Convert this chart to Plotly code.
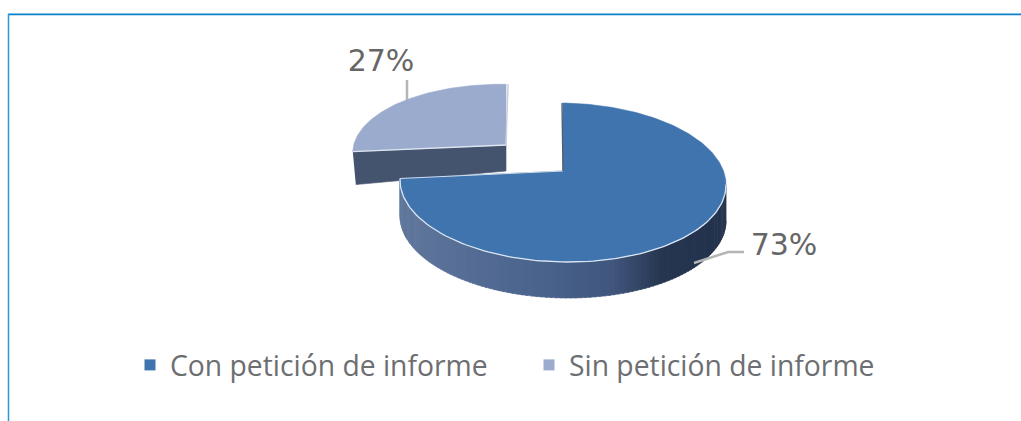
import math
import plotly.graph_objects as go

categories = ["Con petición de informe", "Sin petición de informe"]
shares = [73, 27]
slice_colors = ["#3f74ae", "#9aabcd"]

W, H = 1021, 421
K = 0.1446
A, B = 161.3, 77.8
DEPTH = 36
SHEAR = 0.015


def project(deg, ax, ay, scale=1.0, vscale=1.0):
    t = math.radians(deg)
    u, v = math.sin(t), math.cos(t)
    d = 1 + K * v
    X = scale * A * u / d
    Y = -scale * vscale * B * v / d
    return ax + X, ay + Y + SHEAR * X


def arc(a0, a1, ax, ay, scale=1.0, vscale=1.0, n=120):
    pts = [project(a0 + (a1 - a0) * i / n, ax, ay, scale, vscale) for i in range(n + 1)]
    return [p[0] for p in pts], [p[1] for p in pts]


def lerp_color(stops, f):
    for (f0, c0), (f1, c1) in zip(stops, stops[1:]):
        if f <= f1:
            s = (f - f0) / (f1 - f0)
            rgb = [round(c0[i] + (c1[i] - c0[i]) * s) for i in range(3)]
            return f"rgb({rgb[0]},{rgb[1]},{rgb[2]})"
    return f"rgb{stops[-1][1]}"


fig = go.Figure()


def poly(xs, ys, color):
    fig.add_trace(go.Scatter(
        x=xs, y=ys, mode="lines", fill="toself", fillcolor=color,
        line=dict(color=color, width=0.6),
        showlegend=False, hoverinfo="skip"))


end_main = shares[0] / sum(shares) * 360

# second slice (behind)
ax2, ay2 = 506, 145
sc2, vs2 = 0.94, 0.95
lx, ly = project(end_main, ax2, ay2, sc2, vs2)
poly([lx, ax2, ax2, lx + 3], [ly, ay2, ay2 + DEPTH - 10, ly + DEPTH - 3], "#44546f")
xs, ys = arc(end_main, 360, ax2, ay2, sc2, vs2)
poly([ax2] + xs + [ax2], [ay2] + ys + [ay2], slice_colors[1])
fig.add_trace(go.Scatter(x=[lx, ax2], y=[ly, ay2], mode="lines",
                         line=dict(color="#dfe5f0", width=1.3),
                         showlegend=False, hoverinfo="skip"))
fig.add_trace(go.Scatter(x=[ax2, ax2 + 2], y=[ay2, ay2 - 61], mode="lines",
                         line=dict(color="#c9cfdc", width=1.5),
                         showlegend=False, hoverinfo="skip"))

# main slice wall with gradient
ax1, ay1 = 563, 171
stops = [(0.0, (96, 118, 156)), (0.45, (72, 98, 140)), (0.65, (64, 86, 124)),
         (0.8, (38, 54, 80)), (1.0, (34, 50, 76))]
steps = 110
a_start, a_end = 98.0, end_main
for i in range(steps):
    a0 = a_start + (a_end - a_start) * i / steps
    a1 = a_start + (a_end - a_start) * (i + 1) / steps + 0.4
    x0, y0 = project(a0, ax1, ay1)
    x1, y1 = project(a1, ax1, ay1)
    f = ((x0 + x1) / 2 - 402) / (726 - 402)
    poly([x0, x1, x1, x0], [y0, y1, y1 + DEPTH, y0 + DEPTH],
         lerp_color(stops, max(0, min(1, f))))

# main slice top
xs, ys = arc(0, end_main, ax1, ay1, n=240)
poly([ax1] + xs + [ax1], [ay1] + ys + [ay1], slice_colors[0])
fx, fy = arc(98, end_main, ax1, ay1)
fig.add_trace(go.Scatter(x=fx, y=fy, mode="lines", line=dict(color="#dce6f2", width=1.3),
                         showlegend=False, hoverinfo="skip"))
ex, ey = project(end_main, ax1, ay1)
fig.add_trace(go.Scatter(x=[ex, ax1], y=[ey, ay1], mode="lines", line=dict(color="#cfdcec", width=1),
                         showlegend=False, hoverinfo="skip"))
tx, ty = project(0, ax1, ay1)
fig.add_trace(go.Scatter(x=[ax1, tx - 1], y=[ay1, ty], mode="lines", line=dict(color="#55606f", width=1.4),
                         showlegend=False, hoverinfo="skip"))

# data labels
fig.add_trace(go.Scatter(
    x=[381, 784], y=[63, 247], mode="text",
    text=[f"{shares[1]}%", f"{shares[0]}%"],
    textposition="middle center",
    textfont=dict(family="DejaVu Sans", size=30, color="#666666"),
    showlegend=False, hoverinfo="skip"))

# legend entries
for name, color in zip(categories, slice_colors):
    fig.add_trace(go.Scatter(
        x=[None], y=[None], mode="markers", name=name,
        marker=dict(symbol="square", size=11, color=color)))

shapes = [
    dict(type="line", xref="x", yref="y", x0=8, x1=W, y0=13.5, y1=13.5, line=dict(color="#a9d6ee", width=1)),
    dict(type="line", xref="x", yref="y", x0=8, x1=W, y0=14.5, y1=14.5, line=dict(color="#0b7fc7", width=1.5)),
    dict(type="line", xref="x", yref="y", x0=8.5, x1=8.5, y0=14, y1=H, line=dict(color="#2f94d8", width=1.5)),
    dict(type="line", xref="x", yref="y", x0=407, x1=407, y0=80, y1=102, line=dict(color="#b5b5b5", width=2.5), layer="below"),
    dict(type="path", xref="x", yref="y", path="M694,263 L728,252 L744,252", line=dict(color="#b5b5b5", width=2.5)),
]

fig.update_layout(
    width=W, height=H,
    margin=dict(l=0, r=0, t=0, b=0),
    paper_bgcolor="white", plot_bgcolor="white",
    xaxis=dict(range=[0, W], visible=False, fixedrange=True),
    yaxis=dict(range=[H, 0], visible=False, fixedrange=True),
    shapes=shapes,
    legend=dict(
        orientation="h", x=130 / W, y=1 - 365 / H, xanchor="left", yanchor="middle",
        entrywidth=354, entrywidthmode="pixels",
        font=dict(family="Open Sans", size=28.3, color="#6d6e71"),
        bgcolor="rgba(0,0,0,0)", itemclick=False, itemdoubleclick=False,
        traceorder="normal",
    ),
)
fig.write_html("out.html", config={"displayModeBar": False},
               post_script="document.body.style.margin='0';document.documentElement.style.overflow='hidden';")
